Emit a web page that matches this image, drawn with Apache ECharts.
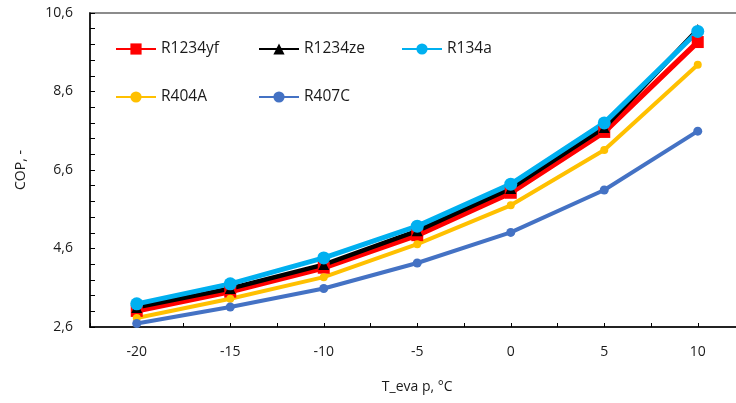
<!DOCTYPE html>
<html>
<head>
<meta charset="utf-8">
<script src="https://cdn.jsdelivr.net/npm/echarts@6/dist/echarts.min.js"></script>
<style>html,body{margin:0;padding:0;background:#fff}#c{width:736px;height:403px}</style>
</head>
<body>
<div id="c"></div>
<script>
const tEvap = [-20, -15, -10, -5, 0, 5, 10];
const R1234yf = [3.01, 3.50, 4.11, 4.94, 6.02, 7.57, 9.86];
const R1234ze = [3.10, 3.58, 4.19, 5.05, 6.13, 7.68, 10.18];
const R134a   = [3.19, 3.70, 4.36, 5.17, 6.24, 7.80, 10.13];
const R404A   = [2.83, 3.32, 3.87, 4.71, 5.70, 7.11, 9.28];
const R407C   = [2.69, 3.11, 3.58, 4.23, 5.01, 6.09, 7.59];
const yTicks = [2.6, 4.6, 6.6, 8.6, 10.6];

const font = 'Open Sans';
function pts(arr){ return tEvap.map((x,i)=>[x, arr[i]]); }

const defs = [
  {name:'R1234yf', data:R1234yf, color:'#FF0000', symbol:'rect', size:12, lw:5.5, legend:{left:115, top:41}},
  {name:'R1234ze', data:R1234ze, color:'#000000', symbol:'triangle', size:11, lw:4.5, legend:{left:258, top:41}},
  {name:'R404A',   data:R404A,   color:'#FFC000', symbol:'circle', size:8, lw:4, legend:{left:115, top:89}},
  {name:'R407C',   data:R407C,   color:'#4472C4', symbol:'circle', size:9, lw:4, legend:{left:258, top:89}},
  {name:'R134a',   data:R134a,   color:'#00B0F0', symbol:'circle', size:13, lw:5, legend:{left:401, top:41}}
];

const chart = echarts.init(document.getElementById('c'));
chart.setOption({
  animation:false,
  backgroundColor:'#fff',
  grid:{left:90, top:13, width:654.5, height:314, show:true, borderColor:'#8c8c8c', borderWidth:2,
        backgroundColor:'transparent', outerBoundsMode:'none', containLabel:false},
  legend: defs.map(d=>({
    data:[d.name], left:d.legend.left, top:d.legend.top, itemWidth:40, itemHeight:14,
    textStyle:{fontFamily:font, fontSize:15.5, color:'#1a1a1a'}, padding:0, itemGap:0
  })),
  xAxis:{
    type:'value', min:-22.5, max:12.5, interval:2.5,
    name:'T_eva p, °C', nameLocation:'middle', nameGap:53,
    nameTextStyle:{fontFamily:font, fontSize:14, color:'#1a1a1a'},
    axisLine:{onZero:false, lineStyle:{color:'#000', width:1.5}},
    axisTick:{inside:true, length:4, lineStyle:{color:'#000'}},
    axisLabel:{margin:18, fontFamily:font, fontSize:14, color:'#1a1a1a',
      formatter:v=> (tEvap.indexOf(v) >= 0 ? String(v) : '')},
    splitLine:{show:false}
  },
  yAxis:{
    type:'value', min:2.6, max:10.6, interval:2,
    name:'COP, -', nameLocation:'middle', nameGap:62, nameRotate:90,
    nameTextStyle:{fontFamily:font, fontSize:14, color:'#1a1a1a'},
    axisLine:{show:true, onZero:false, lineStyle:{color:'#000', width:1.5}},
    axisTick:{show:true, inside:true, length:5, lineStyle:{color:'#000'}},
    minorTick:{show:true, splitNumber:5, length:5, lineStyle:{color:'#000'}},
    axisLabel:{margin:17, fontFamily:font, fontSize:14, color:'#1a1a1a',
      formatter:v=>{ const t = yTicks.find(k=>Math.abs(k-v)<1e-6); return t===undefined ? '' : t.toFixed(1).replace('.', ','); }},
    splitLine:{show:false}
  },
  series: defs.map(d=>({
    name:d.name, type:'line', data:pts(d.data), symbol:d.symbol, symbolSize:d.size,
    showSymbol:true, color:d.color,
    lineStyle:{width:d.lw, color:d.color}, itemStyle:{color:d.color},
    z: 2
  }))
});
</script>
</body>
</html>
